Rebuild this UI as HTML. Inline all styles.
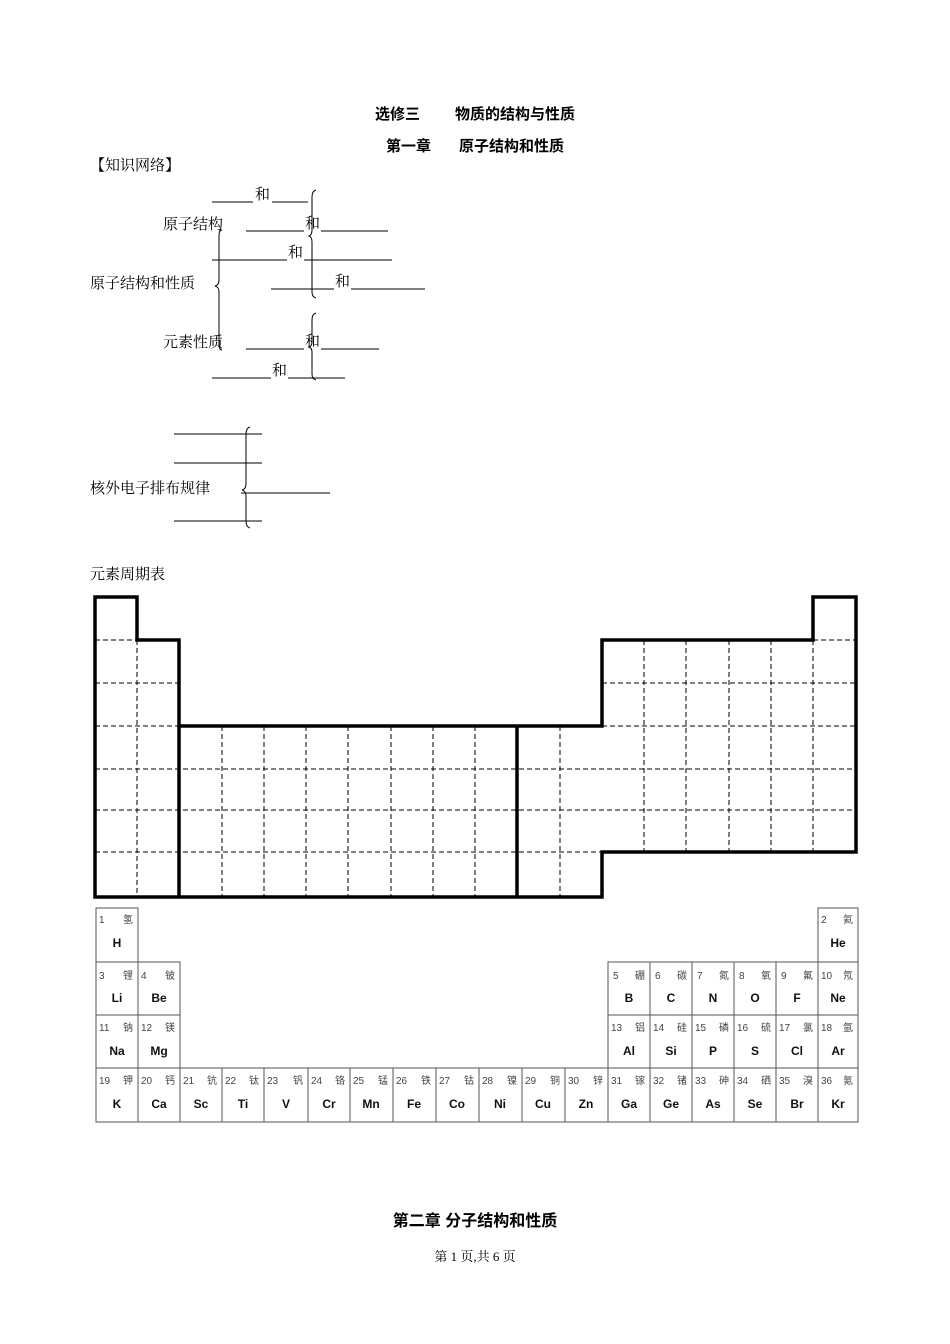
<!DOCTYPE html>
<html><head><meta charset="utf-8"><style>
html,body{margin:0;padding:0;background:#fff;}
svg{display:block;}
.s{font-family:"Liberation Serif","Noto Serif CJK SC",serif;font-size:15px;fill:#000;}
.b{font-family:"Liberation Sans","Noto Sans CJK SC",sans-serif;font-size:15px;font-weight:bold;fill:#000;}
.n{font-family:"Liberation Sans","Noto Sans CJK SC",sans-serif;font-size:10px;fill:#444;}
.y{font-family:"Liberation Sans",sans-serif;font-size:12px;font-weight:bold;fill:#111;}
</style></head><body>
<svg width="950" height="1344" viewBox="0 0 950 1344" xmlns="http://www.w3.org/2000/svg">
<text class="b" x="375" y="119">选修三</text>
<text class="b" x="575" y="119" text-anchor="end">物质的结构与性质</text>
<text class="b" x="386" y="151">第一章</text>
<text class="b" x="564" y="151" text-anchor="end">原子结构和性质</text>
<text class="s" x="90" y="170">【知识网络】</text>

<g stroke="#000" stroke-width="1" fill="none">
<line x1="212" y1="202" x2="253" y2="202"/><line x1="272" y1="202" x2="308" y2="202"/>
<line x1="246" y1="231" x2="304" y2="231"/><line x1="321" y1="231" x2="388" y2="231"/>
<line x1="212" y1="260" x2="287" y2="260"/><line x1="304" y1="260" x2="392" y2="260"/>
<line x1="271" y1="289" x2="334" y2="289"/><line x1="351" y1="289" x2="425" y2="289"/>
<line x1="246" y1="349" x2="304" y2="349"/><line x1="321" y1="349" x2="379" y2="349"/>
<line x1="212" y1="378" x2="271" y2="378"/><line x1="288" y1="378" x2="345" y2="378"/>
<path d="M222,230 Q219,230 219,236 L219,280 Q219,285 215,286 Q219,287 219,292 L219,344 Q219,350 222,350"/>
<path d="M316,190 Q312,191 312,197 L312,230 Q312,235 309,236 Q312,237 312,242 L312,292 Q312,297 316,298"/>
<path d="M316,313 Q312,314 312,320 L312,342 Q312,346 309,347 Q312,348 312,352 L312,374 Q312,379 316,380"/>
<line x1="174" y1="434" x2="262" y2="434"/><line x1="174" y1="463" x2="262" y2="463"/>
<line x1="241" y1="493" x2="330" y2="493"/><line x1="174" y1="521" x2="262" y2="521"/>
<path d="M250,427 Q246,428 246,434 L246,484 Q246,489 242,490 Q246,491 246,496 L246,521 Q246,527 250,528"/>
</g>
<text class="s" x="255" y="199">和</text>
<text class="s" x="163" y="229">原子结构</text>
<text class="s" x="305" y="228">和</text>
<text class="s" x="288" y="257">和</text>
<text class="s" x="90" y="288">原子结构和性质</text>
<text class="s" x="335" y="286">和</text>
<text class="s" x="163" y="347">元素性质</text>
<text class="s" x="305" y="346">和</text>
<text class="s" x="272" y="375">和</text>
<text class="s" x="90" y="493">核外电子排布规律</text>
<text class="s" x="90" y="579">元素周期表</text>

<g stroke="#000" stroke-width="1" stroke-dasharray="5,3" fill="none">
<line x1="95" y1="640" x2="137" y2="640"/><line x1="813" y1="640" x2="856" y2="640"/>
<line x1="95" y1="683" x2="179" y2="683"/><line x1="602" y1="683" x2="856" y2="683"/>
<line x1="95" y1="726" x2="179" y2="726"/><line x1="602" y1="726" x2="856" y2="726"/>
<line x1="95" y1="769" x2="856" y2="769"/><line x1="95" y1="810" x2="856" y2="810"/>
<line x1="95" y1="852" x2="602" y2="852"/>
<line x1="137" y1="640" x2="137" y2="897"/>
<line x1="222" y1="726" x2="222" y2="897"/><line x1="264" y1="726" x2="264" y2="897"/>
<line x1="306" y1="726" x2="306" y2="897"/><line x1="348" y1="726" x2="348" y2="897"/>
<line x1="391" y1="726" x2="391" y2="897"/><line x1="433" y1="726" x2="433" y2="897"/>
<line x1="475" y1="726" x2="475" y2="897"/><line x1="560" y1="726" x2="560" y2="897"/>
<line x1="644" y1="640" x2="644" y2="852"/><line x1="686" y1="640" x2="686" y2="852"/>
<line x1="729" y1="640" x2="729" y2="852"/><line x1="771" y1="640" x2="771" y2="852"/>
<line x1="813" y1="640" x2="813" y2="852"/>
</g>
<g stroke="#000" stroke-width="3.5" fill="none">
<path d="M95,597 H137 V640 H179 V726 H602 V640 H813 V597 H856 V852 H602 V897 H95 Z"/>
<line x1="179" y1="726" x2="179" y2="897"/><line x1="517" y1="726" x2="517" y2="897"/>
</g>

<g stroke="#555" stroke-width="1" fill="none">
<rect x="96" y="908" width="42" height="54"/><rect x="818" y="908" width="40" height="54"/>
<rect x="96" y="962" width="42" height="53"/><rect x="138" y="962" width="42" height="53"/>
<rect x="96" y="1015" width="42" height="53"/><rect x="138" y="1015" width="42" height="53"/>
<rect x="608" y="962" width="250" height="106"/>
<line x1="608" y1="1015" x2="858" y2="1015"/>
<line x1="650" y1="962" x2="650" y2="1068"/><line x1="692" y1="962" x2="692" y2="1068"/>
<line x1="734" y1="962" x2="734" y2="1068"/><line x1="776" y1="962" x2="776" y2="1068"/>
<line x1="818" y1="962" x2="818" y2="1068"/>
<rect x="96" y="1068" width="762" height="54"/>
<line x1="138" y1="1068" x2="138" y2="1122"/><line x1="180" y1="1068" x2="180" y2="1122"/>
<line x1="222" y1="1068" x2="222" y2="1122"/><line x1="264" y1="1068" x2="264" y2="1122"/>
<line x1="308" y1="1068" x2="308" y2="1122"/><line x1="350" y1="1068" x2="350" y2="1122"/>
<line x1="393" y1="1068" x2="393" y2="1122"/><line x1="436" y1="1068" x2="436" y2="1122"/>
<line x1="479" y1="1068" x2="479" y2="1122"/><line x1="522" y1="1068" x2="522" y2="1122"/>
<line x1="565" y1="1068" x2="565" y2="1122"/><line x1="608" y1="1068" x2="608" y2="1122"/>
<line x1="650" y1="1068" x2="650" y2="1122"/><line x1="692" y1="1068" x2="692" y2="1122"/>
<line x1="734" y1="1068" x2="734" y2="1122"/><line x1="776" y1="1068" x2="776" y2="1122"/>
<line x1="818" y1="1068" x2="818" y2="1122"/>
</g>

<g>
<text class="n" x="99" y="923">1</text><text class="n" x="133" y="923" text-anchor="end">氢</text><text class="y" x="117" y="947" text-anchor="middle">H</text>
<text class="n" x="821" y="923">2</text><text class="n" x="853" y="923" text-anchor="end">氦</text><text class="y" x="838" y="947" text-anchor="middle">He</text>
<text class="n" x="99" y="979">3</text><text class="n" x="133" y="979" text-anchor="end">锂</text><text class="y" x="117" y="1002" text-anchor="middle">Li</text>
<text class="n" x="141" y="979">4</text><text class="n" x="175" y="979" text-anchor="end">铍</text><text class="y" x="159" y="1002" text-anchor="middle">Be</text>
<text class="n" x="613" y="979">5</text><text class="n" x="645" y="979" text-anchor="end">硼</text><text class="y" x="629" y="1002" text-anchor="middle">B</text>
<text class="n" x="655" y="979">6</text><text class="n" x="687" y="979" text-anchor="end">碳</text><text class="y" x="671" y="1002" text-anchor="middle">C</text>
<text class="n" x="697" y="979">7</text><text class="n" x="729" y="979" text-anchor="end">氮</text><text class="y" x="713" y="1002" text-anchor="middle">N</text>
<text class="n" x="739" y="979">8</text><text class="n" x="771" y="979" text-anchor="end">氧</text><text class="y" x="755" y="1002" text-anchor="middle">O</text>
<text class="n" x="781" y="979">9</text><text class="n" x="813" y="979" text-anchor="end">氟</text><text class="y" x="797" y="1002" text-anchor="middle">F</text>
<text class="n" x="821" y="979">10</text><text class="n" x="853" y="979" text-anchor="end">氖</text><text class="y" x="838" y="1002" text-anchor="middle">Ne</text>
<text class="n" x="99" y="1031">11</text><text class="n" x="133" y="1031" text-anchor="end">钠</text><text class="y" x="117" y="1055" text-anchor="middle">Na</text>
<text class="n" x="141" y="1031">12</text><text class="n" x="175" y="1031" text-anchor="end">镁</text><text class="y" x="159" y="1055" text-anchor="middle">Mg</text>
<text class="n" x="611" y="1031">13</text><text class="n" x="645" y="1031" text-anchor="end">铝</text><text class="y" x="629" y="1055" text-anchor="middle">Al</text>
<text class="n" x="653" y="1031">14</text><text class="n" x="687" y="1031" text-anchor="end">硅</text><text class="y" x="671" y="1055" text-anchor="middle">Si</text>
<text class="n" x="695" y="1031">15</text><text class="n" x="729" y="1031" text-anchor="end">磷</text><text class="y" x="713" y="1055" text-anchor="middle">P</text>
<text class="n" x="737" y="1031">16</text><text class="n" x="771" y="1031" text-anchor="end">硫</text><text class="y" x="755" y="1055" text-anchor="middle">S</text>
<text class="n" x="779" y="1031">17</text><text class="n" x="813" y="1031" text-anchor="end">氯</text><text class="y" x="797" y="1055" text-anchor="middle">Cl</text>
<text class="n" x="821" y="1031">18</text><text class="n" x="853" y="1031" text-anchor="end">氩</text><text class="y" x="838" y="1055" text-anchor="middle">Ar</text>
<text class="n" x="99" y="1084">19</text><text class="n" x="133" y="1084" text-anchor="end">钾</text><text class="y" x="117" y="1108" text-anchor="middle">K</text>
<text class="n" x="141" y="1084">20</text><text class="n" x="175" y="1084" text-anchor="end">钙</text><text class="y" x="159" y="1108" text-anchor="middle">Ca</text>
<text class="n" x="183" y="1084">21</text><text class="n" x="217" y="1084" text-anchor="end">钪</text><text class="y" x="201" y="1108" text-anchor="middle">Sc</text>
<text class="n" x="225" y="1084">22</text><text class="n" x="259" y="1084" text-anchor="end">钛</text><text class="y" x="243" y="1108" text-anchor="middle">Ti</text>
<text class="n" x="267" y="1084">23</text><text class="n" x="303" y="1084" text-anchor="end">钒</text><text class="y" x="286" y="1108" text-anchor="middle">V</text>
<text class="n" x="311" y="1084">24</text><text class="n" x="345" y="1084" text-anchor="end">铬</text><text class="y" x="329" y="1108" text-anchor="middle">Cr</text>
<text class="n" x="353" y="1084">25</text><text class="n" x="388" y="1084" text-anchor="end">锰</text><text class="y" x="371" y="1108" text-anchor="middle">Mn</text>
<text class="n" x="396" y="1084">26</text><text class="n" x="431" y="1084" text-anchor="end">铁</text><text class="y" x="414" y="1108" text-anchor="middle">Fe</text>
<text class="n" x="439" y="1084">27</text><text class="n" x="474" y="1084" text-anchor="end">钴</text><text class="y" x="457" y="1108" text-anchor="middle">Co</text>
<text class="n" x="482" y="1084">28</text><text class="n" x="517" y="1084" text-anchor="end">镍</text><text class="y" x="500" y="1108" text-anchor="middle">Ni</text>
<text class="n" x="525" y="1084">29</text><text class="n" x="560" y="1084" text-anchor="end">铜</text><text class="y" x="543" y="1108" text-anchor="middle">Cu</text>
<text class="n" x="568" y="1084">30</text><text class="n" x="603" y="1084" text-anchor="end">锌</text><text class="y" x="586" y="1108" text-anchor="middle">Zn</text>
<text class="n" x="611" y="1084">31</text><text class="n" x="645" y="1084" text-anchor="end">镓</text><text class="y" x="629" y="1108" text-anchor="middle">Ga</text>
<text class="n" x="653" y="1084">32</text><text class="n" x="687" y="1084" text-anchor="end">锗</text><text class="y" x="671" y="1108" text-anchor="middle">Ge</text>
<text class="n" x="695" y="1084">33</text><text class="n" x="729" y="1084" text-anchor="end">砷</text><text class="y" x="713" y="1108" text-anchor="middle">As</text>
<text class="n" x="737" y="1084">34</text><text class="n" x="771" y="1084" text-anchor="end">硒</text><text class="y" x="755" y="1108" text-anchor="middle">Se</text>
<text class="n" x="779" y="1084">35</text><text class="n" x="813" y="1084" text-anchor="end">溴</text><text class="y" x="797" y="1108" text-anchor="middle">Br</text>
<text class="n" x="821" y="1084">36</text><text class="n" x="853" y="1084" text-anchor="end">氪</text><text class="y" x="838" y="1108" text-anchor="middle">Kr</text>
</g>

<text class="b" x="475" y="1226" text-anchor="middle" style="font-size:16px">第二章 分子结构和性质</text>
<text class="s" x="475" y="1261" text-anchor="middle" style="font-size:13px">第 1 页,共 6 页</text>
</svg>
</body></html>
